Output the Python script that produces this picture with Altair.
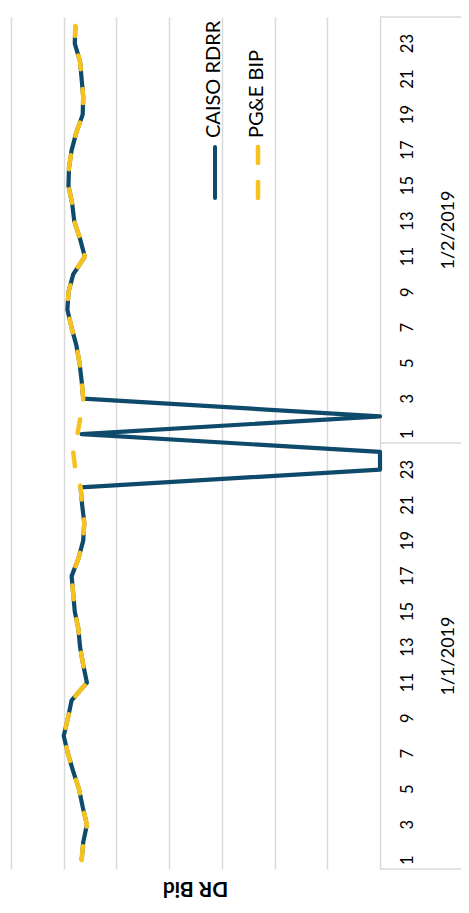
import altair as alt
import pandas as pd

days = ["1/1/2019", "1/2/2019"]
hours = list(range(1, 25))

caiso_day1 = [283, 281.5, 278, 282, 285.5, 291, 296, 300, 296, 292.5, 278, 281.5,
              284.5, 286, 289.5, 291, 292.5, 286, 281.5, 280.5, 282.5, 284, 0, 0]
caiso_day2 = [283, 0, 281.5, 283, 285, 288, 292.5, 296.5, 295.5, 291, 280, 284.5,
              290, 292, 295.5, 295, 292.5, 288, 282, 281.5, 283, 284.5, 289.5, 289]
pge_day1 = [283, 281.5, 278, 282, 285.5, 291, 296, 300, 296, 292.5, 278, 281.5,
            284.5, 286, 289.5, 291, 292.5, 286, 281.5, 280.5, 282.5, 284, 289, 291]
pge_day2 = [287, 284, 281.5, 283, 285, 288, 292.5, 296.5, 295.5, 291, 280, 284.5,
            290, 292, 295.5, 295, 292.5, 288, 282, 281.5, 283, 284.5, 289.5, 289]

series_names = ["CAISO RDRR", "PG&E BIP"]
grid_values = [0, 50, 100, 150, 200, 250, 300, 350]
hour_labels = [h for h in hours if h % 2 == 1]

W, H = 369, 852
NAVY = "#0E4A6B"
GOLD = "#F7C21E"
GRID = "#d9d9d9"
FONT = "Lato"
TXT = "#000000"

rows = []
for name, d1, d2 in [(series_names[0], caiso_day1, caiso_day2),
                     (series_names[1], pge_day1, pge_day2)]:
    for di, vals in enumerate([d1, d2]):
        for h, v in zip(hours, vals):
            rows.append({"series": name, "pos": di * 24 + h - 0.5, "value": v})
df = pd.DataFrame(rows)

yscale = alt.Scale(domain=[0, 48], nice=False, zero=False)
xscale = alt.Scale(domain=[0, 350], reverse=True, nice=False, zero=False)

base = alt.Chart(df)

caiso = base.transform_filter(alt.datum.series == series_names[0]).mark_line(
    color=NAVY, strokeWidth=4.2, strokeJoin="round"
).encode(
    x=alt.X("value:Q", scale=xscale,
            axis=alt.Axis(values=grid_values, grid=True, gridColor=GRID, gridWidth=1.5,
                          labels=False, ticks=False, domain=False, title=None)),
    y=alt.Y("pos:Q", scale=yscale, axis=None),
    order="pos:Q",
)

pge = base.transform_filter(alt.datum.series == series_names[1]).mark_line(
    color=GOLD, strokeWidth=4.5, strokeDash=[14, 20], strokeCap="round", strokeJoin="round"
).encode(
    x=alt.X("value:Q", scale=xscale),
    y=alt.Y("pos:Q", scale=yscale, axis=None),
    order="pos:Q",
)

lab_rows = [{"pos": di * 24 + h - 0.5, "lab": str(h)} for di in range(2) for h in hour_labels]
hour_text = alt.Chart(pd.DataFrame(lab_rows)).mark_text(
    angle=270, align="center", baseline="middle", font=FONT, fontSize=16.5, color=TXT
).encode(
    x=alt.value(W + 28),
    y=alt.Y("pos:Q", scale=yscale, axis=None),
    text="lab:N",
)

day_df = pd.DataFrame({"day": days, "mid": [12, 36]})
day_labels = alt.Chart(day_df).mark_text(
    angle=270, align="center", baseline="middle", font=FONT, fontSize=18, color=TXT
).encode(
    x=alt.value(W + 69),
    y=alt.Y("mid:Q", scale=yscale, axis=None),
    text="day:N",
)

sep_df = pd.DataFrame({"b": [0, 24, 48]})
separators = alt.Chart(sep_df).mark_rule(color=GRID, strokeWidth=1.5).encode(
    y=alt.Y("b:Q", scale=yscale, axis=None),
    x=alt.value(W),
    x2=alt.value(W + 81),
)

title = alt.Chart(pd.DataFrame({"t": ["DR Bid"]})).mark_text(
    angle=180, align="center", baseline="middle", font=FONT, fontSize=21,
    fontWeight="bold", color=TXT
).encode(x=alt.value(W / 2), y=alt.value(H + 19), text="t:N")

leg1_text = alt.Chart(pd.DataFrame({"t": [series_names[0]]})).mark_text(
    angle=270, align="left", baseline="middle", font=FONT, fontSize=20, color=TXT
).encode(x=alt.value(203), y=alt.value(121), text="t:N")
leg2_text = alt.Chart(pd.DataFrame({"t": [series_names[1]]})).mark_text(
    angle=270, align="left", baseline="middle", font=FONT, fontSize=20, color=TXT
).encode(x=alt.value(246), y=alt.value(121), text="t:N")

leg1_sym = alt.Chart(pd.DataFrame({"s": [series_names[0]]})).mark_rule(
    color=NAVY, strokeWidth=4, strokeCap="round"
).encode(x=alt.value(204), y=alt.value(130), y2=alt.value(181))
leg2_sym = alt.Chart(pd.DataFrame({"s": [series_names[1]]})).mark_rule(
    color=GOLD, strokeWidth=4.5, strokeCap="round", strokeDash=[16, 19]
).encode(x=alt.value(247), y=alt.value(130), y2=alt.value(183))

chart = alt.layer(
    caiso, pge, separators, hour_text, day_labels, title,
    leg1_text, leg2_text, leg1_sym, leg2_sym
).properties(
    width=W, height=H,
    autosize=alt.AutoSizeParams(type="none"),
    padding={"left": 3, "top": 9, "right": 81, "bottom": 36},
).configure_view(stroke=None)

chart.save("out.html", embed_options={"renderer": "svg", "actions": False})
